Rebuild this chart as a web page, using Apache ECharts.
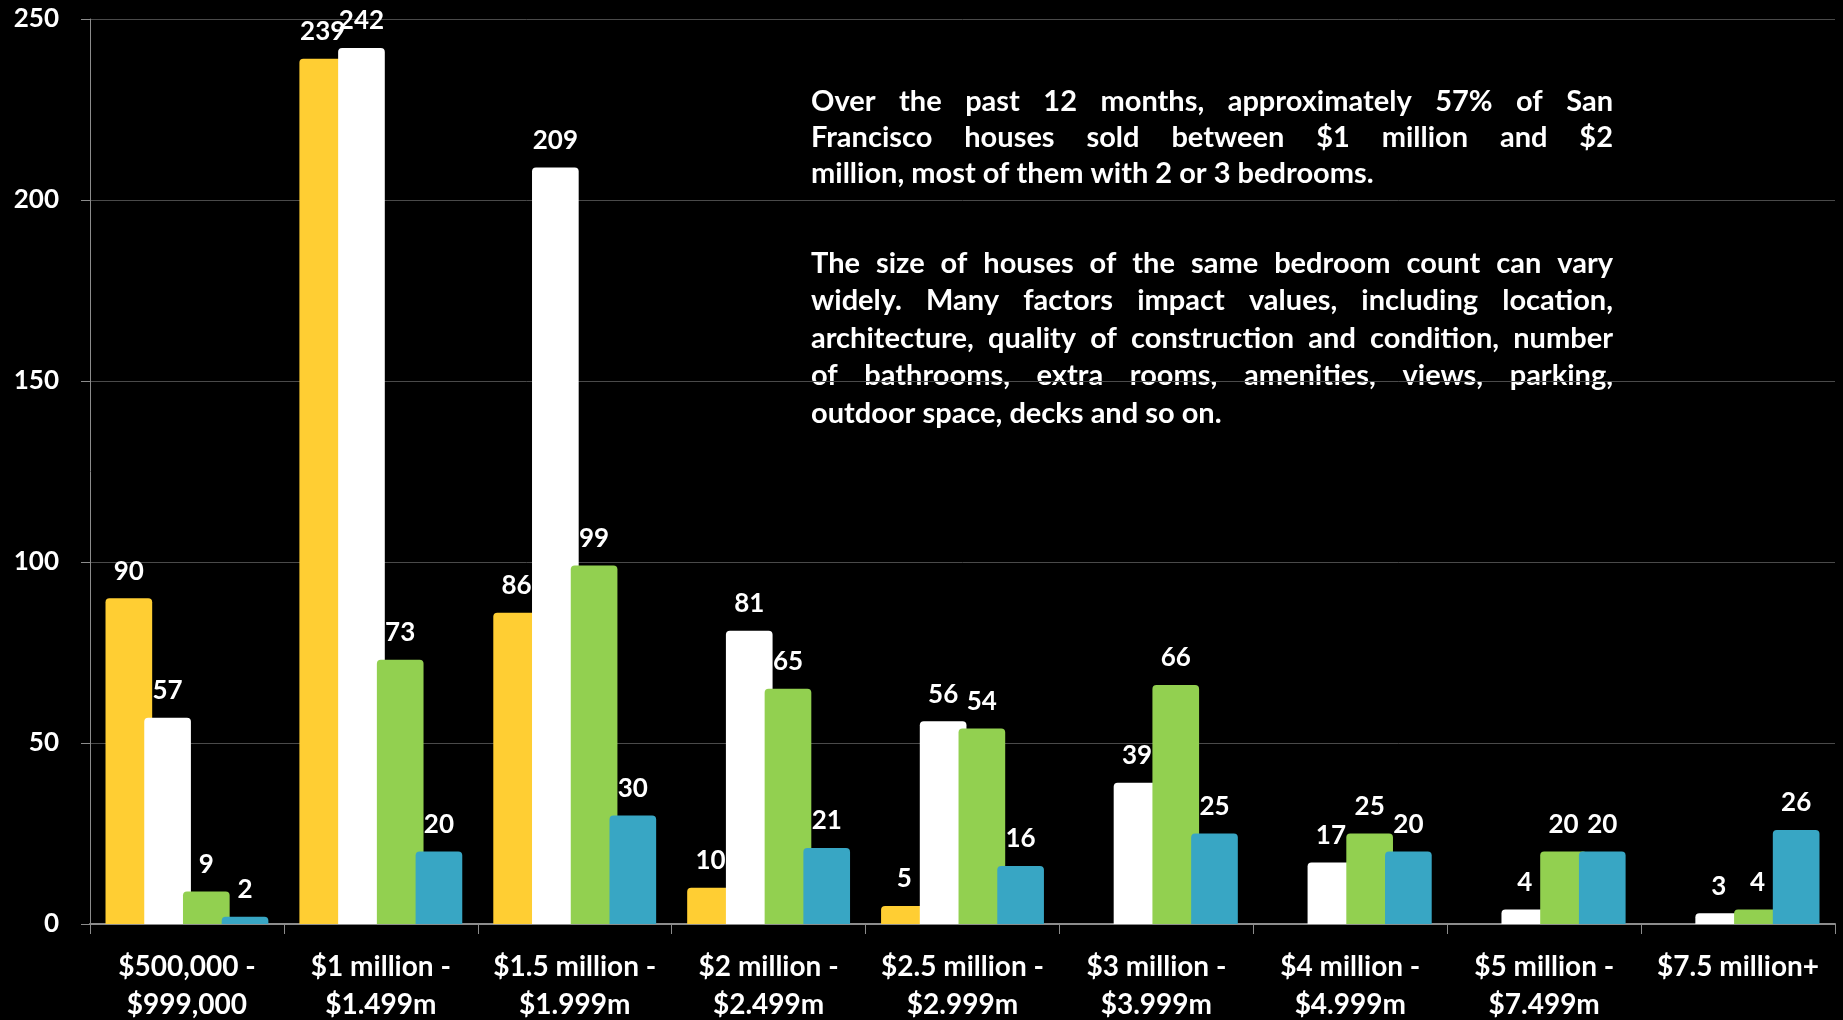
<!DOCTYPE html>
<html>
<head>
<meta charset="utf-8">
<script src="https://cdn.jsdelivr.net/npm/echarts@6/dist/echarts.min.js"></script>
<style>
html,body{margin:0;padding:0;background:#000;}
#chart{width:1843px;height:1020px;}
</style>
</head>
<body>
<div id="chart"></div>
<script>
const categories = ['$500,000 -\n$999,000', '$1 million -\n$1.499m', '$1.5 million -\n$1.999m', '$2 million -\n$2.499m', '$2.5 million -\n$2.999m', '$3 million -\n$3.999m', '$4 million -\n$4.999m', '$5 million -\n$7.499m', '$7.5 million+'];
const seriesNames = ['2 Bedrooms', '3 Bedrooms', '4 Bedrooms', '5+ Bedrooms'];
const yellowValues = [90, 239, 86, 10, 5, null, null, null, null];
const whiteValues = [57, 242, 209, 81, 56, 39, 17, 4, 3];
const greenValues = [9, 73, 99, 65, 54, 66, 25, 20, 4];
const blueValues = [2, 20, 30, 21, 16, 25, 20, 20, 26];
const yTicks = [0, 50, 100, 150, 200, 250];

const paragraphs = [
  ['Over the past 12 months, approximately 57% of San',
   'Francisco houses sold between $1 million and $2',
   'million, most of them with 2 or 3 bedrooms.'],
  ['The size of houses of the same bedroom count can vary',
   'widely. Many factors impact values, including  location,',
   'architecture, quality of construction and condition, number',
   'of bathrooms, extra rooms, amenities, views, parking,',
   'outdoor space, decks and so on.']
];

const FONT_FAMILY = 'Lato, "Open Sans", sans-serif';
const colors = ['#FFCE33', '#FFFFFF', '#92D050', '#38A6C4'];
const valueSets = [yellowValues, whiteValues, greenValues, blueValues];

// justified text block
const textFont = 'bold 29px ' + FONT_FAMILY;
const boxLeft = 811, boxRight = 1613;
const lineYs = [[102, 138, 174], [264, 301, 339, 376, 414]];
const measureCtx = document.createElement('canvas').getContext('2d');
measureCtx.font = textFont;
const textEls = [];
paragraphs.forEach(function (para, pi) {
  para.forEach(function (line, li) {
    const y = lineYs[pi][li];
    const isLast = li === para.length - 1;
    if (isLast) {
      textEls.push({type: 'text', x: boxLeft, y: y, style: {text: line, fill: '#fff', font: textFont, align: 'left', verticalAlign: 'middle'}});
    } else {
      const words = line.split(/ +/);
      const widths = words.map(function (w) { return measureCtx.measureText(w).width; });
      const sum = widths.reduce(function (a, b) { return a + b; }, 0);
      const gap = (boxRight - boxLeft - sum) / (words.length - 1);
      let x = boxLeft;
      words.forEach(function (w, wi) {
        textEls.push({type: 'text', x: x, y: y, style: {text: w, fill: '#fff', font: textFont, align: 'left', verticalAlign: 'middle'}});
        x += widths[wi] + gap;
      });
    }
  });
});

const chart = echarts.init(document.getElementById('chart'), null, {renderer: 'canvas'});
chart.setOption({
  backgroundColor: '#000',
  animation: false,
  grid: {left: 90, right: 8, top: 19, bottom: 96, containLabel: false, outerBoundsMode: 'none'},
  xAxis: {
    type: 'category',
    data: categories,
    axisLine: {lineStyle: {color: '#8c8c8c', width: 2}},
    axisTick: {show: true, length: 10, lineStyle: {color: '#8c8c8c'}},
    axisLabel: {color: '#fff', fontFamily: FONT_FAMILY, fontWeight: 'bold', fontSize: 28, lineHeight: 38, margin: 24, interval: 0}
  },
  yAxis: {
    type: 'value',
    min: yTicks[0], max: yTicks[yTicks.length - 1], interval: 50,
    axisLine: {show: true, lineStyle: {color: '#8c8c8c', width: 1}},
    axisTick: {show: true, length: 9, lineStyle: {color: '#8c8c8c'}},
    axisLabel: {color: '#fff', fontFamily: FONT_FAMILY, fontWeight: 'bold', fontSize: 26, margin: 31},
    splitLine: {show: true, lineStyle: {color: '#4a4a4a', width: 1}}
  },
  series: valueSets.map(function (vals, i) {
    return {
      name: seriesNames[i],
      type: 'bar',
      data: vals,
      barGap: '-17%',
      barCategoryGap: '16%',
      itemStyle: {color: colors[i], borderRadius: [4, 4, 0, 0]},
      label: {show: true, position: 'top', distance: 14, color: '#fff', fontFamily: FONT_FAMILY, fontWeight: 'bold', fontSize: 26}
    };
  }),
  graphic: [{
    type: 'group',
    z: 100,
    children: [{type: 'rect', shape: {x: 797, y: 70, width: 837, height: 372}, style: {fill: '#000'}}].concat(textEls)
  }]
});
</script>
</body>
</html>
